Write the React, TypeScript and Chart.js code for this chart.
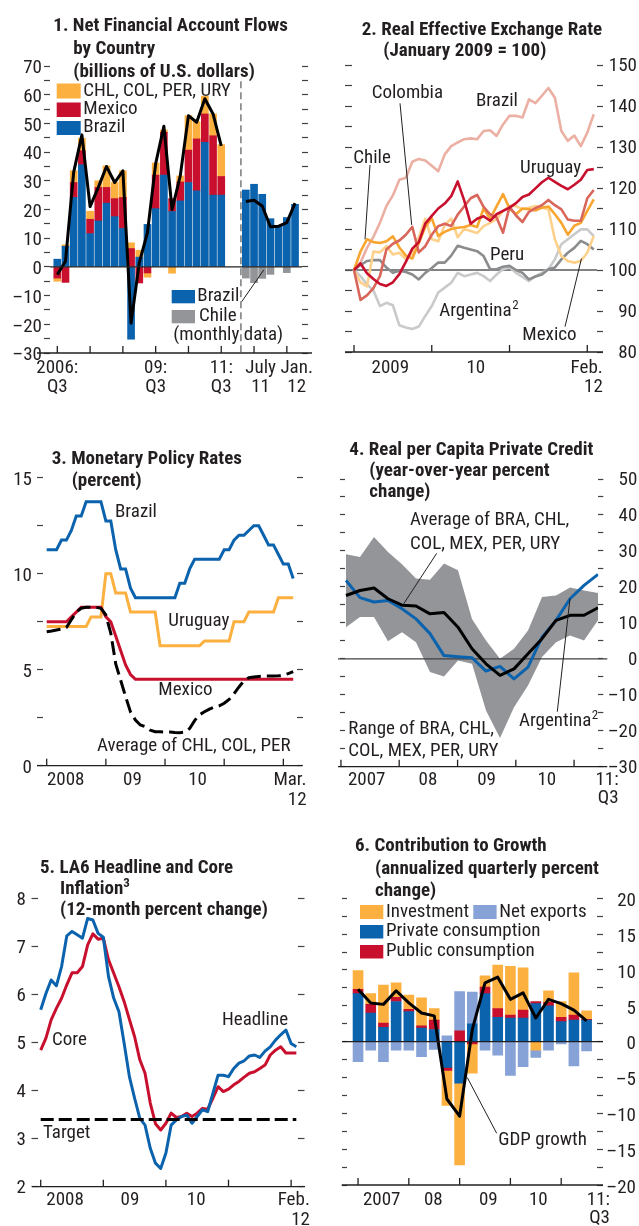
import React, { useEffect, useRef } from 'react';
import { Chart, registerables } from 'chart.js';

Chart.register(...registerables);

const FONT = '"Liberation Sans Narrow", "Arial Narrow", "Roboto Condensed", "DejaVu Sans Condensed", sans-serif';
const FS = 19;
const INK = '#231f20';

const BLUE = '#0b62ad';
const RED = '#c8102e';
const ORANGE = '#fbb040';
const GRAY = '#939598';
const LIGHT_BLUE = '#86a2d6';

// ---------- Panel 1: Net financial account flows (billions of U.S. dollars)
const P1_QUARTERS = ['2006Q3','2006Q4','2007Q1','2007Q2','2007Q3','2007Q4','2008Q1','2008Q2','2008Q3','2008Q4','2009Q1','2009Q2','2009Q3','2009Q4','2010Q1','2010Q2','2010Q3','2010Q4','2011Q1','2011Q2','2011Q3'];
const P1_BRAZIL_Q = [2.7, 7.2, 24.2, 35.6, 11.6, 16, 22.2, 17.5, 13.4, -25.2, 3.4, 14.8, 20.3, 32, 19.3, 23, 29.4, 26.5, 43.4, 25, 25];
const P1_MEXICO_Q = [-3.9, -5.4, 5.2, 4.9, 5, 11.7, 5.5, 6.3, 10.8, 6.4, -5.6, -2.1, 11.7, 14.9, 4.5, 6.6, 11.3, 18.1, 9.9, 20.7, 6.5];
const P1_OTHERS_Q = [-1.1, 0.5, 4.1, 4.3, 2.8, 2.3, 7.5, 5.6, 9.3, 2, 2.4, -1.5, 4.2, 0.8, -2.2, 2.1, 12, 6, 6.2, 7.6, 11.1];
const P1_TOTAL_Q = [-2.7, 2, 33, 46, 21, 27.7, 35, 29.4, 33.5, -19.6, 1.4, 12, 36, 49, 20, 31.7, 52.7, 50.4, 58.6, 53.3, 42.2];
const P1_MONTHS = ['2011-07','2011-08','2011-09','2011-10','2011-11','2011-12','2012-01'];
const P1_BRAZIL_M = [26.8, 28.8, 25.3, 16.8, 14.2, 17.2, 21.8];
const P1_CHILE_M = [-3.9, -5.5, -4, -2.6, 0, -2, 0];
const P1_TOTAL_M = [22.8, 23.2, 21.2, 14, 14.2, 15.4, 22.2];
const P1_XTICKS = [0, 4, 8, 12, 16, 20, 24, 28];
const P1_XLABELS = [['2006:', 'Q3'], ['09:', 'Q3'], ['11:', 'Q3'], ['July', '11'], ['Jan.', '12']];
const P1_XLABEL_AT = [0, 12, 20, 24.8, 29.2];

// ---------- Panel 2: Real effective exchange rate (Jan 2009 = 100), monthly Jan 2009 - Feb 2012
const P2_BRAZIL = [100, 101.8, 105.4, 108.1, 111.5, 115.6, 118.2, 122, 122.5, 126.4, 127.1, 126.7, 125.4, 124.1, 128.2, 130.2, 131.1, 131.9, 132.1, 131.9, 133.9, 134.1, 132.7, 135.5, 137.6, 137.6, 137.2, 141.6, 140.7, 142.5, 144.4, 142, 133.9, 131.5, 132.8, 130.2, 133.5, 138];
const P2_URUGUAY = [100, 101.6, 99.2, 97.8, 96.6, 96.1, 97, 99, 102, 105.2, 106.8, 111.3, 113.2, 115, 116.2, 118, 121.6, 117, 111.3, 112.5, 113.1, 112, 113.6, 114.4, 115.2, 116.3, 117.8, 118.4, 119.9, 121.4, 122.5, 121.5, 120.5, 119.7, 120.8, 122, 124.4, 124.6];
const P2_COLOMBIA = [100, 92.7, 93.8, 95.6, 98.5, 105, 106.4, 107.2, 108.6, 110.5, 104.3, 105.8, 108.6, 110.7, 111.3, 110.7, 113.5, 115.5, 117.5, 118.3, 115.4, 113.6, 112.8, 109.1, 115.4, 113.3, 111.7, 114.2, 115.1, 115.8, 117.1, 115.8, 114.8, 112.3, 112, 112, 117.5, 119.5];
const P2_CHILE = [100, 104.5, 107.5, 106.8, 106.6, 107, 108.2, 105.5, 103.5, 102.8, 106.5, 110.5, 112.6, 108.3, 109.3, 110, 110.3, 110.5, 111, 110.5, 115, 112.5, 115.5, 118.5, 115, 113.6, 115, 114.8, 114.5, 115.2, 115.5, 113.6, 111.5, 108.6, 110.8, 111.5, 114.4, 117.2];
const P2_MEXICO = [100, 97, 96, 104.5, 104.3, 105.8, 103.8, 104.2, 102.6, 104, 108, 112.5, 107.5, 107, 111, 112.5, 108, 110, 109.5, 109, 110.7, 111.5, 112.4, 114.4, 115.6, 115.6, 114.8, 115.2, 115.6, 115.2, 114.8, 107.5, 103.4, 102.2, 101.8, 102.2, 104.2, 108.3];
const P2_PERU = [100, 101.2, 102.2, 102.4, 102.4, 100.6, 99.3, 99.8, 99.5, 98.9, 97.7, 99.3, 100.5, 101.8, 101.8, 103.5, 105.9, 105.4, 105, 104.6, 103.4, 100.2, 100.2, 100.8, 101, 100, 99.3, 97.7, 98.4, 98.9, 100.2, 100.6, 102.6, 104.2, 105.4, 107.1, 106.3, 105];
const P2_ARGENTINA = [100, 98.5, 96.5, 95, 91.2, 92, 91.4, 86.5, 86, 85.6, 86.2, 88.8, 91.2, 94.5, 95.7, 96.9, 99.3, 98.5, 98.9, 99.3, 98.5, 97.3, 98.9, 100.2, 100.6, 99.3, 98.3, 97.3, 98.5, 99.3, 100.2, 102.6, 106.3, 107.5, 108.7, 109.9, 109.9, 108.3];
const P2_XTICKS = [0, 12, 24, 36];
const P2_XLABELS = [['2009'], ['10'], ['Feb.', '12']];
const P2_XLABEL_AT = [5.6, 18.8, 38.4];

// ---------- Panel 3: Monetary policy rates (percent), monthly Jan 2008 - Mar 2012
const P3_BRAZIL = [11.25, 11.25, 11.25, 11.75, 11.75, 12.25, 13, 13, 13.75, 13.75, 13.75, 13.75, 12.75, 12.75, 11.25, 10.25, 10.25, 9.25, 8.75, 8.75, 8.75, 8.75, 8.75, 8.75, 8.75, 8.75, 8.75, 9.5, 9.5, 10.25, 10.75, 10.75, 10.75, 10.75, 10.75, 10.75, 11.25, 11.25, 11.75, 12, 12, 12.25, 12.5, 12.5, 12, 11.5, 11.5, 11, 10.5, 10.5, 9.75];
const P3_URUGUAY = [7.25, 7.25, 7.25, 7.25, 7.25, 7.25, 7.25, 7.25, 7.25, 7.75, 7.75, 7.75, 10, 10, 9, 9, 9, 8, 8, 8, 8, 8, 8, 6.25, 6.25, 6.25, 6.25, 6.25, 6.25, 6.25, 6.25, 6.25, 6.5, 6.5, 6.5, 6.5, 6.5, 6.5, 7.5, 7.5, 7.5, 8, 8, 8, 8, 8, 8, 8.75, 8.75, 8.75, 8.75];
const P3_MEXICO = [7.5, 7.5, 7.5, 7.5, 7.5, 7.75, 8, 8.25, 8.25, 8.25, 8.25, 8.25, 7.75, 7.5, 6.75, 6, 5.25, 4.75, 4.5, 4.5, 4.5, 4.5, 4.5, 4.5, 4.5, 4.5, 4.5, 4.5, 4.5, 4.5, 4.5, 4.5, 4.5, 4.5, 4.5, 4.5, 4.5, 4.5, 4.5, 4.5, 4.5, 4.5, 4.5, 4.5, 4.5, 4.5, 4.5, 4.5, 4.5, 4.5, 4.5];
const P3_AVERAGE = [6.98, 7.02, 7.07, 7.12, 7.2, 7.6, 8.0, 8.2, 8.25, 8.25, 8.25, 8.2, 7.85, 6.9, 5.3, 4.45, 3.6, 2.8, 2.38, 2.12, 2.03, 1.85, 1.77, 1.77, 1.75, 1.75, 1.73, 1.72, 1.75, 1.94, 2.35, 2.65, 2.81, 2.95, 3.05, 3.12, 3.25, 3.45, 3.75, 4.1, 4.42, 4.58, 4.62, 4.65, 4.67, 4.67, 4.67, 4.68, 4.7, 4.8, 4.9];
const P3_XTICKS = [0, 12, 24, 36, 48];
const P3_XLABELS = [['2008'], ['09'], ['10'], ['Mar.', '12']];
const P3_XLABEL_AT = [3.85, 17.4, 30.6, 52.7];

// ---------- Panel 4: Real per capita private credit (y/y percent), quarterly 2007Q1 - 2011Q3
const P4_ARGENTINA = [21.8, 17, 15.8, 16.2, 13.9, 11.1, 7, 0.9, 0.6, 0.3, -3.4, -2.1, -5.6, -2.3, 6, 10.7, 16.7, 20.4, 23.5];
const P4_AVERAGE = [17.6, 19, 19.7, 16.7, 14.9, 14.7, 12.5, 12.9, 8.8, 2.8, -1.4, -4.6, -2.8, 1.4, 5.6, 10.7, 12.1, 12.1, 14.2];
const P4_RANGE_HIGH = [29.1, 28.3, 33.9, 29.7, 26.3, 22.3, 22, 26.5, 24.6, 11.1, 5.1, 0, 2.8, 7.9, 17.2, 17.6, 19.8, 19, 18.3];
const P4_RANGE_LOW = [8.8, 11.6, 11.6, 4.9, 7.4, 4.6, -3.7, -4.9, -0.5, -1.4, -14.4, -22, -13.5, -7.4, 0.5, 4.6, 6.5, 5.1, 10.7];
const P4_XTICKS = [-0.36, 3.8, 7.97, 12.13, 16.29];
const P4_XLABELS = [['2007'], ['08'], ['09'], ['10'], ['11:', 'Q3']];
const P4_XLABEL_AT = [1.48, 5.85, 10.04, 14.34, 19.47];

// ---------- Panel 5: LA6 headline and core inflation (12-month percent change), Jan 2008 - Feb 2012
const P5_HEADLINE = [5.68, 6.02, 6.3, 6.18, 6.58, 7.22, 7.31, 7.24, 7.17, 7.58, 7.55, 7.27, 7.19, 6.37, 5.92, 5.64, 4.98, 4.29, 3.84, 3.42, 3.28, 2.8, 2.49, 2.38, 2.7, 3.28, 3.39, 3.46, 3.49, 3.32, 3.46, 3.6, 3.56, 3.94, 4.32, 4.32, 4.29, 4.46, 4.57, 4.62, 4.72, 4.74, 4.69, 4.82, 4.91, 5.05, 5.16, 5.26, 4.98, 4.91];
const P5_CORE = [4.84, 5.09, 5.47, 5.71, 5.92, 6.2, 6.45, 6.45, 6.58, 7.03, 7.26, 7.15, 7.17, 6.72, 6.44, 6.16, 5.85, 5.48, 5.12, 4.64, 4.36, 3.74, 3.31, 3.18, 3.32, 3.53, 3.44, 3.46, 3.53, 3.46, 3.53, 3.63, 3.61, 3.84, 4.08, 3.98, 4.03, 4.12, 4.19, 4.28, 4.36, 4.39, 4.46, 4.53, 4.74, 4.84, 4.91, 4.78, 4.78, 4.78];
const P5_TARGET = 3.4;
const P5_XTICKS = [0, 12, 24, 36, 48];
const P5_XLABELS = [['2008'], ['09'], ['10'], ['Feb.', '12']];
const P5_XLABEL_AT = [4.66, 17.1, 29.8, 51.6];

// ---------- Panel 6: Contribution to growth (annualized quarterly percent change), 2007Q1 - 2011Q3
const P6_PRIVATE = [6.7, 4, 2, 5.6, 4.2, 1.9, 1.7, -3.6, -5.8, 2.5, 6.7, 3.4, 3.3, 3.3, 5.3, 5, 2.8, 3, 3];
const P6_PUBLIC = [0.6, 1.2, 0.6, 0.6, 0.3, 0.3, 1.3, -0.4, 1.5, -0.3, 0.9, 1.2, 0.4, 1.1, 0.3, 0.5, 0.6, 0.7, 0.1];
const P6_INVESTMENT = [2.6, 1.5, 5.3, 2, 2, 3.9, 1.6, -4.9, -11.4, -4.1, 1.6, 6.1, 6.8, 5.9, -1.2, 1.6, 2.2, 5.9, 1.2];
const P6_NET_EXPORTS = [-2.8, -1.2, -2.8, -1.2, -1.2, -2.1, -1.1, 0.8, 5.5, 4.4, -1.2, -1.9, -4.7, -3.5, -1.0, -1.2, -0.3, -3.4, -1.3];
const P6_GDP = [7.3, 5.4, 5.2, 7.1, 5.4, 4, 3.6, -8, -10.4, 1.7, 8.2, 9, 5.9, 6.8, 3.3, 5.9, 5.3, 4.4, 2.9];
const P6_XTICKS = [0, 4, 8, 12, 16];
const P6_XLABELS = [['2007'], ['08'], ['09'], ['10'], ['11:', 'Q3']];
const P6_XLABEL_AT = [1.86, 5.93, 10.26, 14.2, 19.84];

// ---------- helpers
const seq = (n: number, start = 0) => Array.from({ length: n }, (_, i) => start + i);
const pts = (xs: number[], ys: number[]) => xs.map((x, i) => ({ x, y: ys[i] }));
const xLabels = (lines: string[][], at: number[], lastAlign = 'center') =>
  lines.map((l, i) => ({ at: at[i], lines: l, align: i === lines.length - 1 && l.length > 1 ? lastAlign : 'center' }));

function fmtTick(v: number, every: number) {
  const r = v / every;
  if (Math.abs(r - Math.round(r)) > 1e-6) return '';
  return v < 0 ? '\u2013' + Math.abs(v) : String(v);
}

function line(label: string, data: any[], color: string, width: number, order: number, extra: any = {}) {
  return { type: 'line', label, data, borderColor: color, backgroundColor: color, borderWidth: width, pointRadius: 0, fill: false, order, borderJoinStyle: 'round', ...extra };
}
function bar(label: string, data: any[], color: string, thickness: number) {
  return { type: 'bar', label, data, backgroundColor: color, borderWidth: 0, barThickness: thickness, order: 5, stack: 'bars' };
}

function drawRef(chart: any, c: any) {
  const r = c.ref;
  const { left, right } = chart.chartArea;
  const y = chart.scales.y.getPixelForValue(r.v);
  const ctx = chart.ctx;
  ctx.save();
  ctx.strokeStyle = r.color;
  ctx.lineWidth = r.width;
  ctx.beginPath();
  ctx.moveTo(left - r.extL, y);
  ctx.lineTo(right + r.extR, y);
  ctx.stroke();
  ctx.restore();
}

function decoPlugin(c: any) {
  return {
    id: 'deco',
    beforeDatasetsDraw(chart: any) {
      if (c.ref && c.ref.layer === 'below') drawRef(chart, c);
    },
    afterDatasetDraw(chart: any, args: any) {
      if (c.ref && c.ref.layer === 'index' && args.index === c.ref.index) drawRef(chart, c);
    },
    afterDatasetsDraw(chart: any) {
      if (c.ref && c.ref.layer === 'above') drawRef(chart, c);
    },
    afterDraw(chart: any) {
      const ctx = chart.ctx;
      const { left, right, bottom } = chart.chartArea;
      const xs = chart.scales.x;
      const ys = chart.scales.y;
      ctx.save();
      ctx.strokeStyle = INK;
      ctx.lineWidth = 1.3;
      ctx.beginPath();
      ctx.moveTo(left - c.extL, bottom);
      ctx.lineTo(right + c.extR, bottom);
      ctx.stroke();
      for (const t of c.xTicks) {
        const px = xs.getPixelForValue(t);
        ctx.beginPath();
        ctx.moveTo(px, bottom);
        ctx.lineTo(px, bottom - 7);
        ctx.stroke();
      }
      ctx.fillStyle = INK;
      ctx.font = `${FS}px ${FONT}`;
      ctx.textBaseline = 'middle';
      for (const lab of c.xLabels) {
        const px = xs.getPixelForValue(lab.at);
        ctx.textAlign = lab.align;
        lab.lines.forEach((s: string, i: number) => ctx.fillText(s, px, bottom + c.xLabelDy + i * c.xLabelLh));
      }
      if (c.vline) {
        const px = xs.getPixelForValue(c.vline.x);
        ctx.save();
        ctx.strokeStyle = '#58595b';
        ctx.lineWidth = 1.2;
        ctx.setLineDash([7, 4]);
        ctx.beginPath();
        ctx.moveTo(px, ys.getPixelForValue(c.vline.yTop));
        ctx.lineTo(px, bottom);
        ctx.stroke();
        ctx.restore();
      }
      for (const s of c.swatches || []) {
        ctx.fillStyle = s.color;
        ctx.fillRect(s.x - c.ox, s.y - c.oy, s.w, s.h);
      }
      ctx.fillStyle = INK;
      ctx.textAlign = 'left';
      for (const t of c.texts || []) {
        ctx.font = `${FS}px ${FONT}`;
        const x = t.x - c.ox;
        const y = t.y - c.oy;
        ctx.fillText(t.t, x, y);
        if (t.sup) {
          const w = ctx.measureText(t.t).width;
          ctx.font = `13px ${FONT}`;
          ctx.fillText(t.sup, x + w + 0.5, y - 6);
        }
      }
      ctx.strokeStyle = INK;
      ctx.lineWidth = 1;
      for (const l of c.leaders || []) {
        ctx.beginPath();
        ctx.moveTo(l.x1 - c.ox, l.y1 - c.oy);
        ctx.lineTo(xs.getPixelForValue(l.x), ys.getPixelForValue(l.y));
        ctx.stroke();
      }
      ctx.restore();
    },
  };
}

function buildConfig(c: any) {
  const other = c.labelSide === 'left' ? 'right' : 'left';
  const yScale = (side: string, labels: boolean) => {
    const tl = side === 'left' ? c.leftTick : c.rightTick;
    const width = side === 'left' ? c.leftW : c.rightW;
    return {
      type: 'linear',
      position: side,
      min: c.yMin,
      max: c.yMax,
      stacked: !!c.stacked && labels,
      grid: { display: true, drawOnChartArea: false, drawTicks: true, tickLength: tl, tickColor: '#414042', tickWidth: 1.2, color: 'rgba(0,0,0,0)' },
      border: { display: false },
      ticks: {
        stepSize: c.yStep,
        autoSkip: false,
        padding: c.labelPad,
        labelOffset: c.labelOffset || 0,
        crossAlign: side === 'right' ? 'far' : 'near',
        color: INK,
        font: { family: FONT, size: FS },
        callback: (v: any) => (labels ? fmtTick(Number(v), c.labelEvery) : ''),
      },
      afterFit: (s: any) => {
        s.width = width;
      },
    };
  };
  return {
    type: c.type,
    data: { datasets: c.datasets },
    options: {
      responsive: false,
      maintainAspectRatio: false,
      animation: false,
      devicePixelRatio: 1,
      events: [],
      layout: {
        padding: { left: c.L - c.ox - c.leftW, right: c.ox + c.w - c.R - c.rightW, top: c.T - c.oy, bottom: c.oy + c.h - c.B },
      },
      plugins: { legend: { display: false }, tooltip: { enabled: false }, title: { display: false } },
      elements: { point: { radius: 0 }, line: { tension: 0 } },
      scales: {
        x: { type: 'linear', display: false, min: c.xMin, max: c.xMax, stacked: !!c.stacked, offset: false },
        y: yScale(c.labelSide, true),
        y2: yScale(other, false),
      },
    },
    plugins: [decoPlugin(c)],
  };
}

// ---------- panel definitions
const p1qx = seq(P1_QUARTERS.length);
const p1mx = seq(P1_MONTHS.length, P1_QUARTERS.length + 2);
const P1 = {
  type: 'bar', stacked: true,
  ox: 0, oy: 0, w: 320, h: 400, L: 50, R: 302, T: 66, B: 353, leftW: 50, rightW: 8,
  yMin: -30, yMax: 70, yStep: 5, labelEvery: 10, labelSide: 'left', leftTick: 6, rightTick: 6, labelPad: 2, labelOffset: 2.5,
  xMin: -0.89, xMax: 29.85, xTicks: P1_XTICKS, xLabels: xLabels(P1_XLABELS, P1_XLABEL_AT), extL: 13, extR: 10, xLabelDy: 15, xLabelLh: 19,
  ref: { v: 0, layer: 'above', extL: 0, extR: 0, color: INK, width: 1.2 },
  vline: { x: 22.4, yTop: 64.7 },
  swatches: [
    { x: 56.7, y: 83.5, w: 24, h: 15, color: ORANGE },
    { x: 56.7, y: 102.5, w: 24, h: 14.5, color: RED },
    { x: 56.7, y: 121, w: 24, h: 14, color: BLUE },
    { x: 171.7, y: 290, w: 23.3, h: 13.3, color: BLUE },
    { x: 171.7, y: 310, w: 23.3, h: 13.3, color: GRAY },
  ],
  texts: [
    { x: 83.3, y: 91.7, t: 'CHL, COL, PER, URY' },
    { x: 83.3, y: 109.3, t: 'Mexico' },
    { x: 83.3, y: 127.7, t: 'Brazil' },
    { x: 197.3, y: 296.7, t: 'Brazil' },
    { x: 199, y: 316.7, t: 'Chile' },
    { x: 173.3, y: 335, t: '(monthly data)' },
  ],
  leaders: [{ x1: 241.7, y1: 301.7, x: 25.2, y: -1 }],
  datasets: [
    line('Total (quarterly)', pts(p1qx, P1_TOTAL_Q), '#000', 3, 0, { stack: 'l1' }),
    line('Total (monthly)', pts(p1mx, P1_TOTAL_M), '#000', 3, 0, { stack: 'l2' }),
    bar('Brazil', pts(p1qx, P1_BRAZIL_Q), BLUE, 7),
    bar('Mexico', pts(p1qx, P1_MEXICO_Q), RED, 7),
    bar('CHL, COL, PER, URY', pts(p1qx, P1_OTHERS_Q), ORANGE, 7),
    bar('Brazil (monthly)', pts(p1mx, P1_BRAZIL_M), BLUE, 7),
    bar('Chile (monthly)', pts(p1mx, P1_CHILE_M), GRAY, 7),
  ],
};

const p2x = seq(P2_BRAZIL.length);
const P2 = {
  type: 'line',
  ox: 320, oy: 0, w: 319, h: 400, L: 352, R: 597, T: 65, B: 352, leftW: 32, rightW: 40,
  yMin: 80, yMax: 150, yStep: 5, labelEvery: 10, labelSide: 'right', leftTick: 7, rightTick: 6, labelPad: 4, labelOffset: 1,
  xMin: -0.31, xMax: 37.5, xTicks: P2_XTICKS, xLabels: xLabels(P2_XLABELS, P2_XLABEL_AT, 'right'), extL: 7, extR: 6, xLabelDy: 16, xLabelLh: 19,
  ref: { v: 100, layer: 'below', extL: 7, extR: 0, color: '#58595b', width: 1.3 },
  texts: [
    { x: 371.7, y: 93.3, t: 'Colombia' },
    { x: 476, y: 101.7, t: 'Brazil' },
    { x: 353.3, y: 158.3, t: 'Chile' },
    { x: 520, y: 168.3, t: 'Uruguay' },
    { x: 490, y: 255, t: 'Peru' },
    { x: 439.3, y: 311.7, t: 'Argentina', sup: '2' },
    { x: 522.3, y: 335, t: 'Mexico' },
  ],
  leaders: [
    { x1: 400, y1: 103.3, x: 8.9, y: 111 },
    { x1: 370, y1: 165, x: 1.7, y: 107.5 },
    { x1: 565, y1: 326.7, x: 35.1, y: 102.8 },
  ],
  datasets: [
    line('Uruguay', pts(p2x, P2_URUGUAY), '#c8102e', 2.6, 0),
    line('Colombia', pts(p2x, P2_COLOMBIA), '#d9665b', 2.6, 1),
    line('Chile', pts(p2x, P2_CHILE), '#f8a630', 2.6, 2),
    line('Mexico', pts(p2x, P2_MEXICO), '#fdd18b', 2.6, 3),
    line('Peru', pts(p2x, P2_PERU), '#8a8c8e', 2.6, 4),
    line('Argentina', pts(p2x, P2_ARGENTINA), '#c9cacb', 2.6, 5),
    line('Brazil', pts(p2x, P2_BRAZIL), '#ebb0a3', 2.6, 6),
  ],
};

const p3x = seq(P3_BRAZIL.length);
const P3 = {
  type: 'line',
  ox: 0, oy: 400, w: 320, h: 420, L: 43, R: 297, T: 477.7, B: 765.7, leftW: 43, rightW: 8,
  yMin: 0, yMax: 15, yStep: 2.5, labelEvery: 5, labelSide: 'left', leftTick: 6, rightTick: 6, labelPad: 5, labelOffset: 2.3,
  xMin: -0.75, xMax: 50.77, xTicks: P3_XTICKS, xLabels: xLabels(P3_XLABELS, P3_XLABEL_AT, 'right'), extL: 6, extR: 5, xLabelDy: 14.3, xLabelLh: 20,
  texts: [
    { x: 115, y: 512.7, t: 'Brazil' },
    { x: 168.3, y: 621.7, t: 'Uruguay' },
    { x: 158.3, y: 690, t: 'Mexico' },
    { x: 97, y: 746.7, t: 'Average of CHL, COL, PER' },
  ],
  datasets: [
    line('Average of CHL, COL, PER', pts(p3x, P3_AVERAGE), '#000', 3, 0, { borderDash: [14, 6], borderJoinStyle: 'miter' }),
    line('Mexico', pts(p3x, P3_MEXICO), RED, 3, 1, { borderJoinStyle: 'miter' }),
    line('Uruguay', pts(p3x, P3_URUGUAY), ORANGE, 3, 2, { borderJoinStyle: 'miter' }),
    line('Brazil', pts(p3x, P3_BRAZIL), BLUE, 3, 3, { borderJoinStyle: 'miter' }),
  ],
};

const p4x = seq(P4_AVERAGE.length);
const P4 = {
  type: 'line',
  ox: 320, oy: 400, w: 319, h: 420, L: 345, R: 598.3, T: 479, B: 766.7, leftW: 25, rightW: 39,
  yMin: -30, yMax: 50, yStep: 5, labelEvery: 10, labelSide: 'right', leftTick: 5, rightTick: 5, labelPad: 4, labelOffset: 1.5,
  xMin: -0.07, xMax: 18.02, xTicks: P4_XTICKS, xLabels: xLabels(P4_XLABELS, P4_XLABEL_AT, 'right'), extL: 7, extR: 9, xLabelDy: 13.3, xLabelLh: 18.5,
  ref: { v: 0, layer: 'index', index: 2, extL: 7, extR: 9, color: '#414042', width: 1.3 },
  texts: [
    { x: 410, y: 520.7, t: 'Average of BRA, CHL,' },
    { x: 410, y: 544, t: 'COL, MEX, PER, URY' },
    { x: 348.3, y: 729, t: 'Range of BRA, CHL,' },
    { x: 348.3, y: 751.7, t: 'COL, MEX, PER, URY' },
    { x: 519, y: 721.7, t: 'Argentina', sup: '2' },
  ],
  leaders: [
    { x1: 436.7, y1: 553.3, x: 4.07, y: 15 },
    { x1: 557.3, y1: 711.7, x: 16, y: 16.8 },
  ],
  datasets: [
    line('Average of BRA, CHL, COL, MEX, PER, URY', pts(p4x, P4_AVERAGE), '#000', 3, 0),
    line('Argentina', pts(p4x, P4_ARGENTINA), BLUE, 3, 1),
    { type: 'line', label: 'Range high', data: pts(p4x, P4_RANGE_HIGH), borderWidth: 0, borderColor: 'rgba(0,0,0,0)', backgroundColor: GRAY, pointRadius: 0, fill: '+1', order: 2 },
    { type: 'line', label: 'Range low', data: pts(p4x, P4_RANGE_LOW), borderWidth: 0, borderColor: 'rgba(0,0,0,0)', backgroundColor: GRAY, pointRadius: 0, fill: false, order: 3 },
  ],
};

const p5x = seq(P5_HEADLINE.length);
const P5 = {
  type: 'line',
  ox: 0, oy: 820, w: 320, h: 406, L: 38, R: 298, T: 898.3, B: 1186.7, leftW: 38, rightW: 8,
  yMin: 2, yMax: 8, yStep: 1, labelEvery: 1, labelSide: 'left', leftTick: 6.5, rightTick: 6.5, labelPad: 5.5, labelOffset: 1.7,
  xMin: -0.52, xMax: 49.32, xTicks: P5_XTICKS, xLabels: xLabels(P5_XLABELS, P5_XLABEL_AT, 'right'), extL: 6, extR: 7, xLabelDy: 13.3, xLabelLh: 20,
  texts: [
    { x: 52, y: 1040.7, t: 'Core' },
    { x: 222, y: 1020.7, t: 'Headline' },
    { x: 43, y: 1133.3, t: 'Target' },
  ],
  datasets: [
    line('Target', [{ x: p5x[0], y: P5_TARGET }, { x: p5x[p5x.length - 1], y: P5_TARGET }], '#000', 3, 0, { borderDash: [13, 5] }),
    line('Headline', pts(p5x, P5_HEADLINE), BLUE, 3, 1),
    line('Core', pts(p5x, P5_CORE), RED, 3, 2),
  ],
};

const p6x = seq(P6_GDP.length);
const P6 = {
  type: 'bar', stacked: true,
  ox: 320, oy: 820, w: 319, h: 406, L: 347, R: 597, T: 898.3, B: 1185, leftW: 27, rightW: 39,
  yMin: -20, yMax: 20, yStep: 2.5, labelEvery: 5, labelSide: 'right', leftTick: 5, rightTick: 6, labelPad: 4, labelOffset: 3,
  xMin: -0.87, xMax: 18.82, xTicks: P6_XTICKS, xLabels: xLabels(P6_XLABELS, P6_XLABEL_AT, 'right'), extL: 5.3, extR: 6, xLabelDy: 15, xLabelLh: 18,
  ref: { v: 0, layer: 'above', extL: 5, extR: 6, color: INK, width: 1.2 },
  swatches: [
    { x: 360, y: 905, w: 23.3, h: 14, color: ORANGE },
    { x: 473.3, y: 905, w: 23.3, h: 14, color: LIGHT_BLUE },
    { x: 360, y: 925, w: 23.3, h: 13.5, color: BLUE },
    { x: 360, y: 945, w: 23.3, h: 13.5, color: RED },
  ],
  texts: [
    { x: 386, y: 912, t: 'Investment' },
    { x: 499.3, y: 912, t: 'Net exports' },
    { x: 386, y: 931.7, t: 'Private consumption' },
    { x: 386, y: 951.7, t: 'Public consumption' },
    { x: 498.3, y: 1140, t: 'GDP growth' },
  ],
  leaders: [{ x1: 496.7, y1: 1133.3, x: 8.6, y: -5 }],
  datasets: [
    line('GDP growth', pts(p6x, P6_GDP), '#000', 3, 0, { stack: 'gdp' }),
    bar('Private consumption', pts(p6x, P6_PRIVATE), BLUE, 10),
    bar('Public consumption', pts(p6x, P6_PUBLIC), RED, 10),
    bar('Investment', pts(p6x, P6_INVESTMENT), ORANGE, 10),
    bar('Net exports', pts(p6x, P6_NET_EXPORTS), LIGHT_BLUE, 10),
  ],
};

const TITLES = [
  { lines: [['1. Net Financial Account Flows'], ['by Country'], ['(billions of U.S. dollars)']], x0: 53.3, x1: 73.3, y: 25, lh: 22.8 },
  { lines: [['2. Real Effective Exchange Rate'], ['(January 2009 = 100)']], x0: 361.7, x1: 383.3, y: 29, lh: 21 },
  { lines: [['3. Monetary Policy Rates'], ['(percent)']], x0: 51.7, x1: 71.7, y: 458.3, lh: 21.7 },
  { lines: [['4. Real per Capita Private Credit'], ['(year-over-year percent'], ['change)']], x0: 349.3, x1: 369.3, y: 449.3, lh: 20.7 },
  { lines: [['5. LA6 Headline and Core'], ['Inflation', '3'], ['(12-month percent change)']], x0: 40, x1: 60, y: 866.7, lh: 21.3 },
  { lines: [['6. Contribution to Growth'], ['(annualized quarterly percent'], ['change)']], x0: 355, x1: 375, y: 845, lh: 22.5 },
];

function Panel({ cfg }: { cfg: any }) {
  const ref = useRef<HTMLCanvasElement>(null);
  useEffect(() => {
    const chart = new Chart(ref.current as HTMLCanvasElement, buildConfig(cfg) as any);
    return () => chart.destroy();
  }, []);
  return (
    <canvas
      ref={ref}
      width={cfg.w}
      height={cfg.h}
      style={{ position: 'absolute', left: cfg.ox, top: cfg.oy, width: cfg.w, height: cfg.h }}
    />
  );
}

export default function App() {
  return (
    <div style={{ position: 'absolute', left: 0, top: 0, width: 639, height: 1226, background: '#fff', overflow: 'hidden' }}>
      {[P1, P2, P3, P4, P5, P6].map((p, i) => (
        <Panel key={i} cfg={p} />
      ))}
      {TITLES.map((t, ti) =>
        t.lines.map((l, li) => (
          <div
            key={ti + '-' + li}
            style={{
              position: 'absolute',
              left: li === 0 ? t.x0 : t.x1,
              top: t.y + li * t.lh - 11,
              font: `bold 19px ${FONT}`,
              lineHeight: '22px',
              whiteSpace: 'nowrap',
              color: INK,
            }}
          >
            {l[0]}
            {l[1] ? <sup style={{ fontSize: 13, verticalAlign: 'top', lineHeight: '13px', position: 'relative', top: -1 }}>{l[1]}</sup> : null}
          </div>
        ))
      )}
    </div>
  );
}
